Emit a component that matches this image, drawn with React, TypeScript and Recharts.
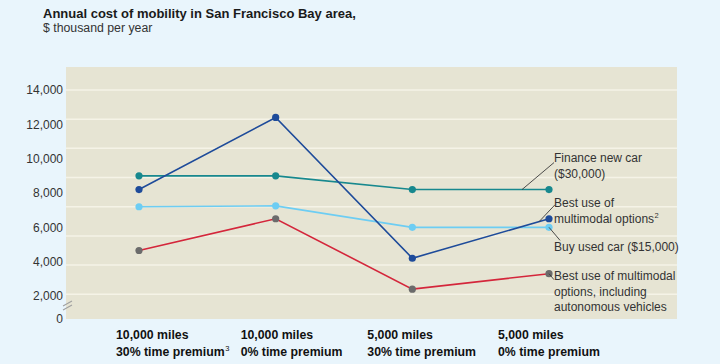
import React from 'react';
import { LineChart, Line, XAxis, YAxis, CartesianGrid, LabelList } from 'recharts';

const CAT_LINE1 = ['10,000 miles', '10,000 miles', '5,000 miles', '5,000 miles'];
const CAT_LINE2 = ['30% time premium', '0% time premium', '30% time premium', '0% time premium'];
const CAT_NOTE = ['3', '', '', ''];

const FINANCE_NEW_CAR = [9000, 9000, 8200, 8200];
const MULTIMODAL = [8200, 12400, 4200, 6500];
const USED_CAR = [7200, 7250, 6000, 6000];
const AUTONOMOUS = [4650, 6500, 2400, 3300];

const Y_TICKS = [2000, 4000, 6000, 8000, 10000, 12000, 14000];
const Y_MIN = 660;
const Y_MAX = 15340;
const GRID_VALUES = [14000, 12300, 10600, 8900, 7200, 5500, 3800, 2100];

const TITLE = 'Annual cost of mobility in San Francisco Bay area,';
const SUBTITLE = '$ thousand per year';

const LABEL_FINANCE = ['Finance new car', '($30,000)'];
const LABEL_MULTIMODAL = ['Best use of', 'multimodal options'];
const LABEL_MULTIMODAL_NOTE = ['', '2'];
const LABEL_USED = ['Buy used car ($15,000)'];
const LABEL_AUTO = ['Best use of multimodal', 'options, including', 'autonomous vehicles'];

const data = CAT_LINE1.map((c, i) => ({
  cat: c + ' ' + CAT_LINE2[i],
  finance: FINANCE_NEW_CAR[i],
  multimodal: MULTIMODAL[i],
  used: USED_CAR[i],
  auto: AUTONOMOUS[i],
}));

const FONT = '"Liberation Sans", Arial, Helvetica, sans-serif';
const TEXT = '#333333';

const COLORS = {
  finance: '#17888e',
  multimodal: '#1e4b9a',
  used: '#6dcdf3',
  auto: '#d4263b',
  autoDot: '#6b6b6b',
};

const X_LABEL_DX = [-23, -35, -45, -51];

function XTick(props: any) {
  const { x, y, payload } = props;
  const i = payload.index;
  return (
    <g>
      <text x={x + X_LABEL_DX[i]} y={y + 20} textAnchor="start" fontSize={12.3} fontWeight="bold" fill="#111" fontFamily={FONT}>
        {CAT_LINE1[i]}
      </text>
      <text x={x + X_LABEL_DX[i]} y={y + 37} textAnchor="start" fontSize={12.3} fontWeight="bold" fill="#111" fontFamily={FONT}>
        {CAT_LINE2[i]}
        {CAT_NOTE[i] && (
          <tspan dx={0.5} dy={-5} fontSize={7.5} fontWeight="normal">
            {CAT_NOTE[i]}
          </tspan>
        )}
      </text>
    </g>
  );
}

function YTick(props: any) {
  const { x, y, payload } = props;
  const isZero = payload.value === Y_MIN;
  const label = isZero ? '0' : Number(payload.value).toLocaleString('en-US');
  return (
    <g>
      <text x={x} y={y} dy="0.355em" textAnchor="end" fontSize={12} fill={TEXT} fontFamily={FONT}>
        {label}
      </text>
      {isZero && (
        <g stroke="#a0a0a0" strokeWidth={1.1}>
          <line x1={x} y1={y - 13} x2={x + 9} y2={y - 18} />
          <line x1={x} y1={y - 9} x2={x + 9} y2={y - 14} />
        </g>
      )}
    </g>
  );
}

function makeAnnotation(lines: string[], notes: string[] | null, textDx: number, textDys: number[], leader: number[]) {
  return (props: any) => {
    const { x, y, index } = props;
    if (index !== 3) return null;
    return (
      <g>
        <line
          x1={x + leader[0]}
          y1={y + leader[1]}
          x2={x + leader[2]}
          y2={y + leader[3]}
          stroke="#3a3a3a"
          strokeWidth={0.9}
        />
        {lines.map((t, k) => (
          <text key={k} x={x + textDx} y={y + textDys[k] + 4.3} fontSize={12} fill={TEXT} fontFamily={FONT}>
            {t}
            {notes && notes[k] ? (
              <tspan dx={0.5} dy={-5} fontSize={7.5}>
                {notes[k]}
              </tspan>
            ) : null}
          </text>
        ))}
      </g>
    );
  };
}

const financeLabel = makeAnnotation(LABEL_FINANCE, null, 5, [-32, -16], [-27, 0, 5, -27]);
const multimodalLabel = makeAnnotation(LABEL_MULTIMODAL, LABEL_MULTIMODAL_NOTE, 5, [-16, -0.5], [-10, 3, 6, -14]);
const usedLabel = makeAnnotation(LABEL_USED, null, 5, [19.5], [0, 0, 11, 13]);
const autoLabel = makeAnnotation(LABEL_AUTO, null, 5, [2.5, 18, 33], [0, 0, 5, 6]);

export default function App() {
  return (
    <div
      style={{
        position: 'absolute',
        left: 0,
        top: 0,
        width: 720,
        height: 364,
        background: '#e9f5fc',
        fontFamily: FONT,
        overflow: 'hidden',
      }}
    >
      <div style={{ position: 'absolute', left: 43, top: 6, fontSize: 13, lineHeight: '15px', fontWeight: 'bold', color: '#1a1a1a', whiteSpace: 'nowrap' }}>
        {TITLE}
      </div>
      <div style={{ position: 'absolute', left: 43, top: 21, fontSize: 12.3, lineHeight: '15px', color: TEXT }}>
        {SUBTITLE}
      </div>
      <div style={{ position: 'absolute', left: 0, top: 0 }}>
        <LineChart
          width={720}
          height={364}
          data={data}
          margin={{ top: 67, right: 43, bottom: 0, left: 0 }}
          style={{ fontFamily: FONT }}
        >
          <CartesianGrid
            vertical={false}
            horizontalValues={GRID_VALUES}
            fill="#e6e4d3"
            fillOpacity={1}
            stroke="#f5f3e7"
            strokeWidth={1.5}
          />
          <XAxis
            dataKey="cat"
            type="category"
            padding={{ left: 73, right: 128 }}
            axisLine={false}
            tickLine={false}
            tickSize={0}
            tickMargin={0}
            height={45}
            interval={0}
            tick={<XTick />}
          />
          <YAxis
            type="number"
            domain={[Y_MIN, Y_MAX]}
            ticks={[Y_MIN, ...Y_TICKS]}
            allowDataOverflow
            axisLine={false}
            tickLine={false}
            tickSize={0}
            tickMargin={3}
            width={66}
            interval={0}
            tick={<YTick />}
          />
          <Line
            dataKey="finance"
            stroke={COLORS.finance}
            strokeWidth={1.6}
            dot={{ r: 3.6, fill: COLORS.finance, stroke: 'none' }}
            activeDot={false}
            isAnimationActive={false}
          >
            <LabelList content={financeLabel} />
          </Line>
          <Line
            dataKey="used"
            stroke={COLORS.used}
            strokeWidth={1.6}
            dot={{ r: 3.6, fill: COLORS.used, stroke: 'none' }}
            activeDot={false}
            isAnimationActive={false}
          >
            <LabelList content={usedLabel} />
          </Line>
          <Line
            dataKey="auto"
            stroke={COLORS.auto}
            strokeWidth={1.6}
            dot={{ r: 3.6, fill: COLORS.autoDot, stroke: 'none' }}
            activeDot={false}
            isAnimationActive={false}
          >
            <LabelList content={autoLabel} />
          </Line>
          <Line
            dataKey="multimodal"
            stroke={COLORS.multimodal}
            strokeWidth={1.6}
            dot={{ r: 3.6, fill: COLORS.multimodal, stroke: 'none' }}
            activeDot={false}
            isAnimationActive={false}
          >
            <LabelList content={multimodalLabel} />
          </Line>
        </LineChart>
      </div>
    </div>
  );
}
